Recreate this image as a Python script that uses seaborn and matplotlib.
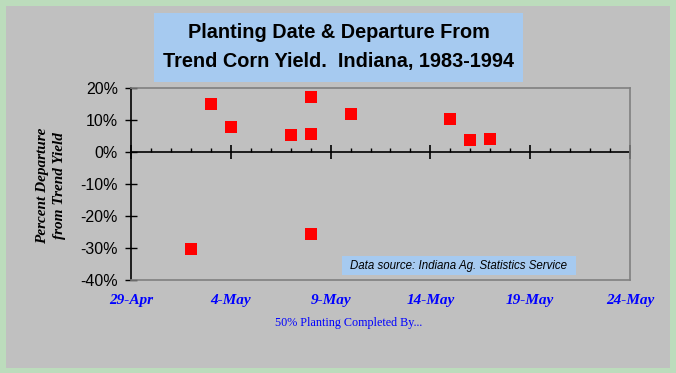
import matplotlib
matplotlib.use("Agg")
import matplotlib.pyplot as plt
import matplotlib.dates as mdates
from matplotlib.patches import Rectangle
from matplotlib.ticker import FixedLocator
import seaborn as sns
import pandas as pd

# ---- data ----
planting_dates = ["2-May", "3-May", "4-May", "7-May", "8-May", "8-May",
                  "8-May", "10-May", "15-May", "16-May", "17-May"]
departure_pct = [-30.3, 14.9, 7.7, 5.2, 17.1, 5.5, -25.6, 11.8, 10.2, 3.7, 4.0]
x_tick_labels = ["29-Apr", "4-May", "9-May", "14-May", "19-May", "24-May"]
y_ticks = [20, 10, 0, -10, -20, -30, -40]
title_text = "Planting Date & Departure From\nTrend Corn Yield.  Indiana, 1983-1994"
source_text = "Data source: Indiana Ag. Statistics Service"

YEAR = "1990"
sns.set_theme(style="white")
plt.rcParams['font.family'] = ['Liberation Sans', 'DejaVu Sans']

W, H = 676, 373
GREEN = "#BCDCBC"
GRAY = "#C0C0C0"
LIGHTBLUE = "#A6CAF0"
BORDER = "#808080"


def fx(px):
    return px / W


def fy(py):
    return 1 - py / H


fig = plt.figure(figsize=(W / 100, H / 100), dpi=100, facecolor=GREEN)
fig.patches.append(Rectangle((fx(6), fy(368)), fx(670) - fx(6), fy(6) - fy(368),
                             transform=fig.transFigure, facecolor=GRAY,
                             edgecolor='none', zorder=-5))

ax = fig.add_axes([fx(131), fy(280), fx(630) - fx(131), fy(88) - fy(280)])
ax.set_facecolor('none')
ax.set_zorder(2)

df = pd.DataFrame({
    "date": pd.to_datetime([d + "-" + YEAR for d in planting_dates], format="%d-%b-%Y"),
    "departure": departure_pct,
})
sns.scatterplot(data=df, x="date", y="departure", marker="s", s=64,
                color="#FF0000", linewidth=0, ax=ax, zorder=3, legend=False)

tick_dates = pd.date_range(pd.Timestamp(YEAR + "-04-29"), periods=len(x_tick_labels), freq="5D")
minor_dates = pd.date_range(tick_dates[0], tick_dates[-1], freq="D")
ax.set_xlim(tick_dates[0], tick_dates[-1])
ax.set_ylim(min(y_ticks), max(y_ticks))

ax.set_xticks(tick_dates)
ax.set_xticklabels(x_tick_labels)
ax.tick_params(axis='x', length=0, pad=10, labelcolor="#0000FF")
for lab in ax.get_xticklabels():
    lab.set_fontfamily(['Liberation Serif', 'DejaVu Serif'])
    lab.set_fontweight('bold')
    lab.set_fontstyle('italic')
    lab.set_fontsize(11)

ax.set_yticks(y_ticks)
ax.set_yticklabels([f"{v}%" for v in y_ticks])
ax.tick_params(axis='y', direction='inout', length=9, width=1, color='black',
               labelsize=11.5, pad=5, labelcolor='black', left=True)

for side in ['top', 'right', 'bottom']:
    ax.spines[side].set_color(BORDER)
    ax.spines[side].set_linewidth(1.2)
ax.spines['left'].set_color('black')
ax.spines['left'].set_linewidth(1.2)

# zero line axis with ticks
zero_pos = (0 - min(y_ticks)) / (max(y_ticks) - min(y_ticks))
sec = ax.secondary_xaxis(zero_pos)
sec.xaxis.set_major_locator(FixedLocator(mdates.date2num(tick_dates)))
sec.xaxis.set_minor_locator(FixedLocator(mdates.date2num(minor_dates)))
sec.xaxis.set_ticks_position('bottom')
sec.tick_params(which='major', direction='inout', length=10, width=1.2, color='black',
                labelbottom=False, labeltop=False)
sec.tick_params(which='minor', direction='in', length=3, width=1, color='black')
for sp in sec.spines.values():
    sp.set_color('black')
    sp.set_linewidth(1.2)

ax.set_xlabel("50% Planting Completed By...", fontfamily=['Liberation Serif', 'DejaVu Serif'],
              fontsize=8.7, color="#0000FF", va='center')
ax.xaxis.set_label_coords((349 - 131) / 499, (280 - 323) / 192)
ax.set_ylabel("Percent Departure\nfrom Trend Yield", fontfamily=['Liberation Serif', 'DejaVu Serif'],
              fontsize=11, fontweight='bold', fontstyle='italic', color='black',
              va='center', ha='center', linespacing=1.35)
ax.yaxis.set_label_coords((51 - 131) / 499, (280 - 186) / 192)

# title box
fig.patches.append(Rectangle((fx(154), fy(82)), fx(523) - fx(154), fy(13) - fy(82),
                             transform=fig.transFigure, facecolor=LIGHTBLUE,
                             edgecolor='none', zorder=-4))
fig.text(fx(338.5), fy(47), title_text, ha='center', va='center', fontsize=14.3,
         fontweight='bold', color='black', linespacing=1.6, zorder=3)

# data source box
fig.patches.append(Rectangle((fx(342), fy(275)), fx(576) - fx(342), fy(256) - fy(275),
                             transform=fig.transFigure, facecolor=LIGHTBLUE,
                             edgecolor='none', zorder=-4))
fig.text(fx(459), fy(265.5), source_text, ha='center', va='center', fontsize=8.3,
         fontstyle='italic', color='black', zorder=3)

fig.savefig("out.png", dpi=100, facecolor=GREEN)
